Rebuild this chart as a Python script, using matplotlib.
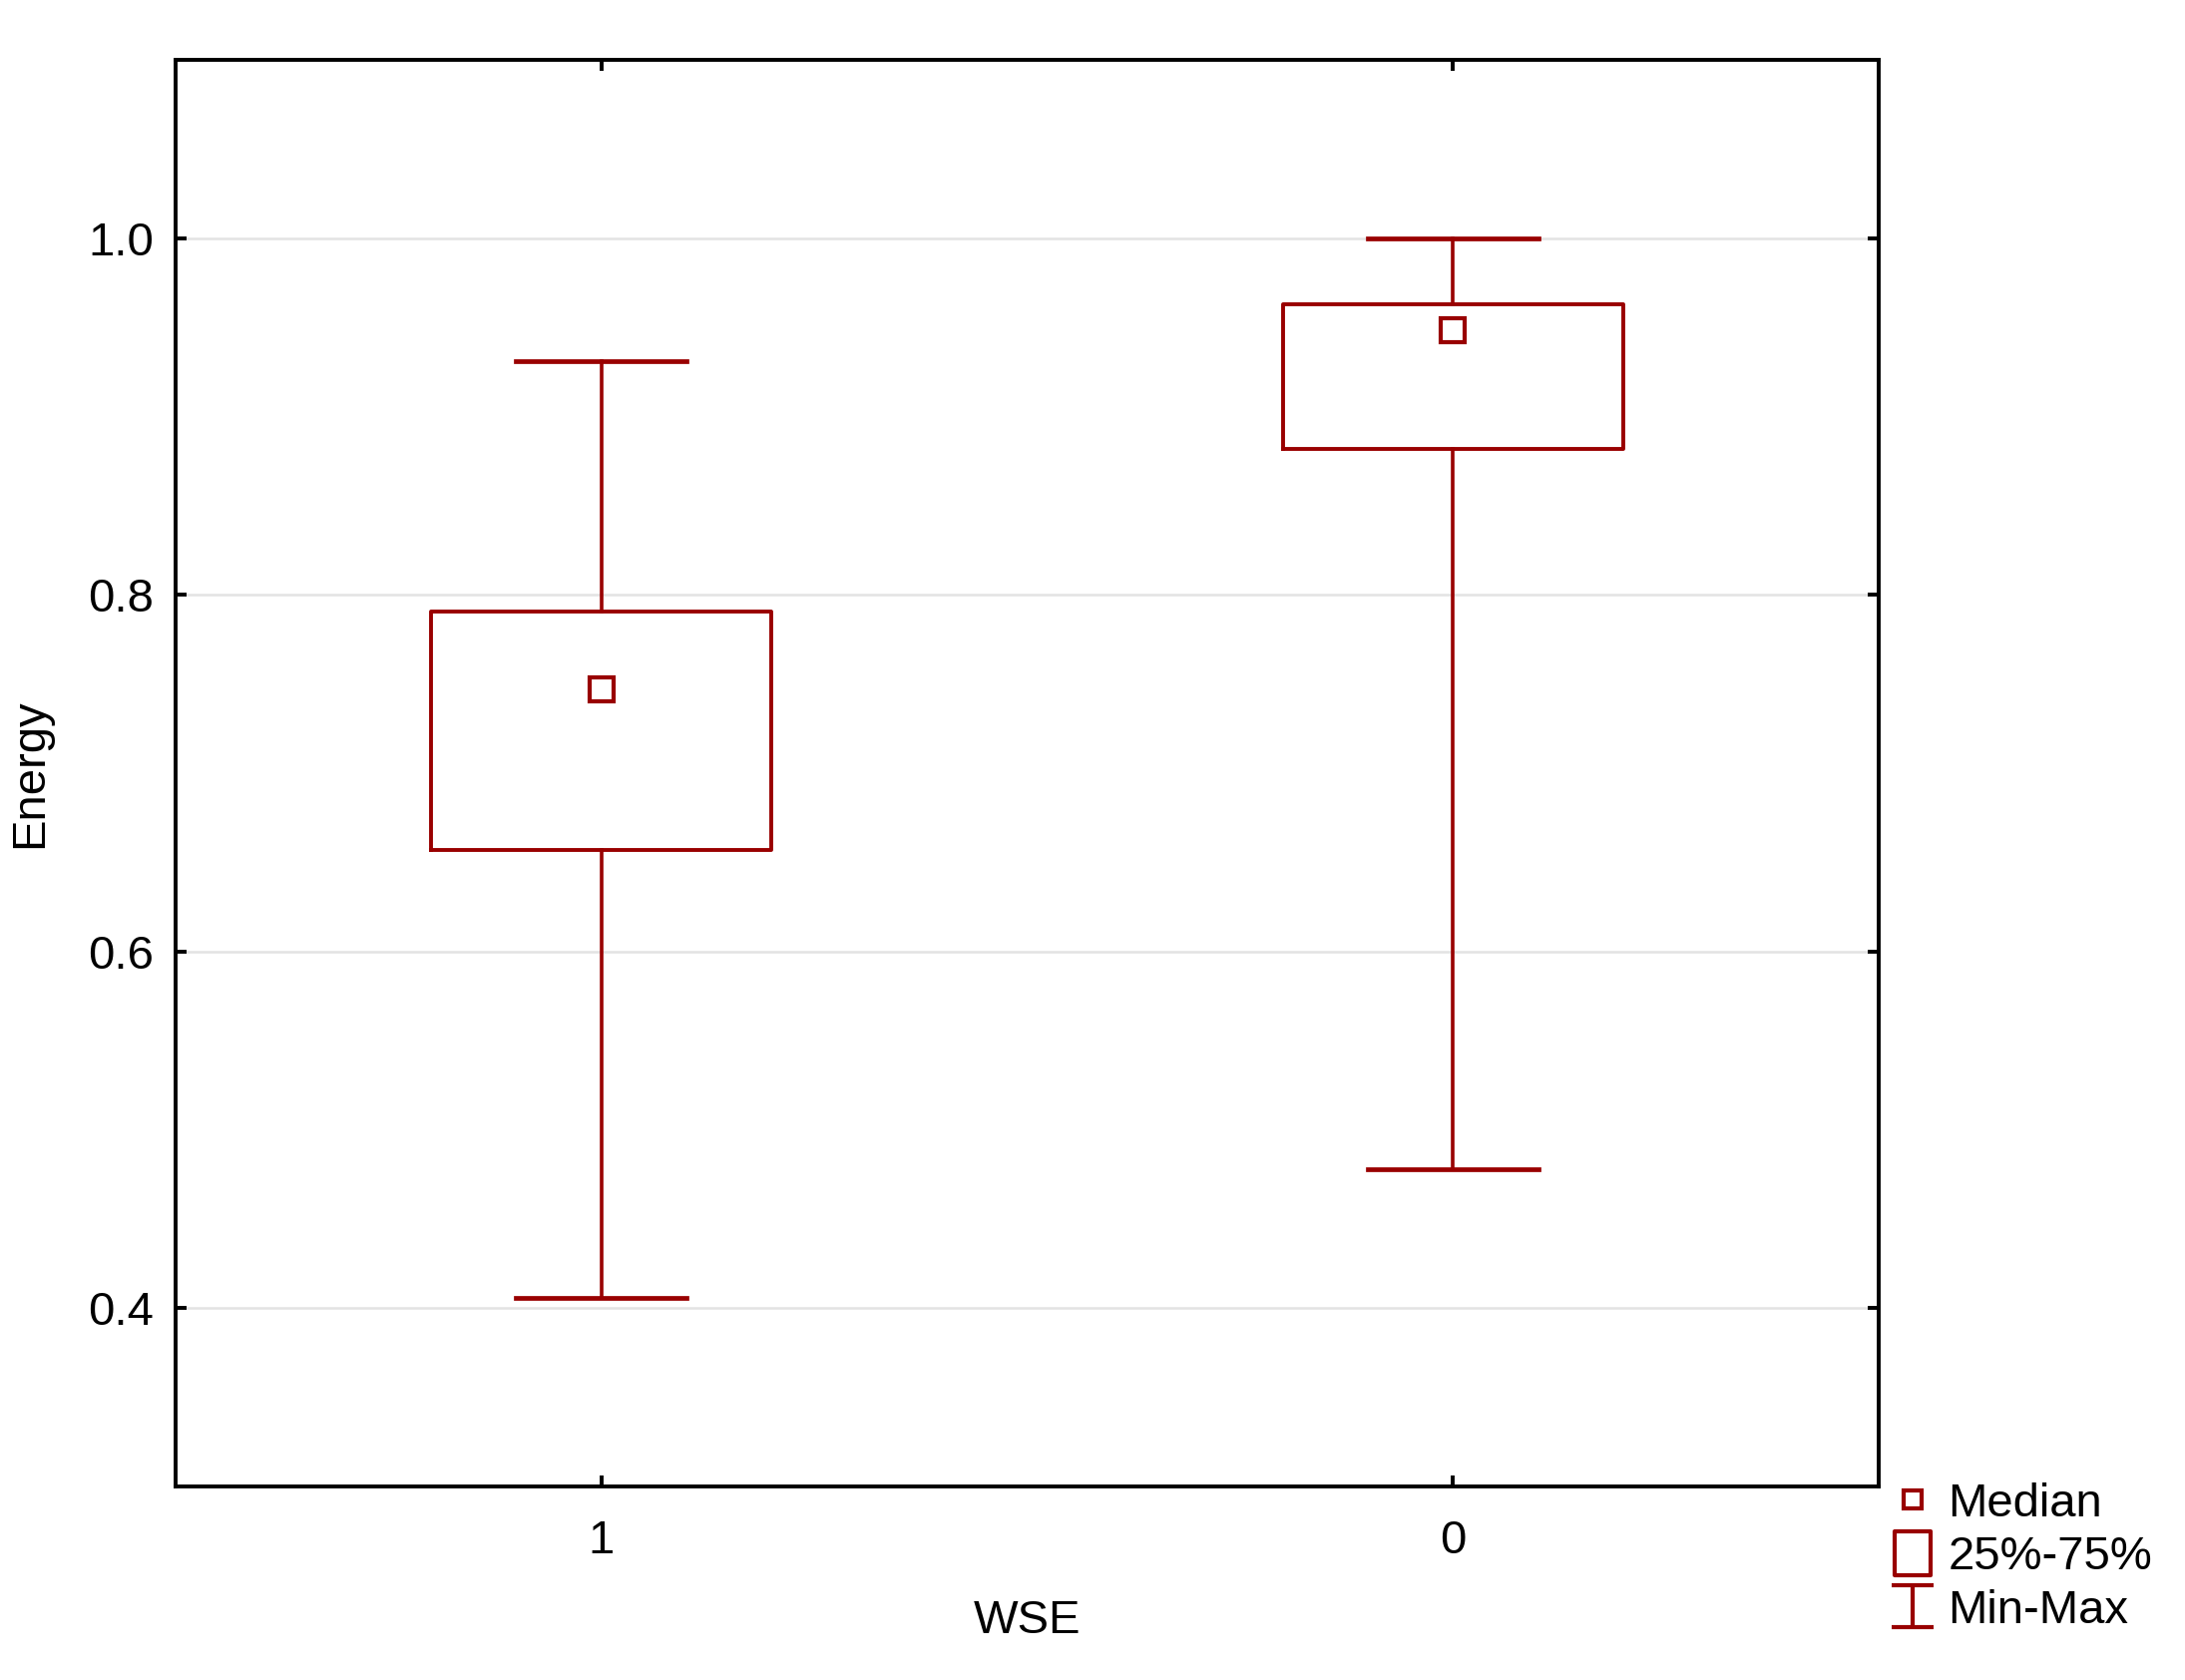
import matplotlib
matplotlib.use("Agg")
import matplotlib.pyplot as plt
from matplotlib.lines import Line2D
from matplotlib.path import Path

plt.rcParams['font.family'] = ['Liberation Sans', 'DejaVu Sans']

# data
groups = ['1', '0']
mins = [0.406, 0.478]
q1s = [0.657, 0.882]
medians = [0.747, 0.9485]
q3s = [0.7905, 0.963]
maxs = [0.931, 1.0]

RED = '#990000'
FS = 17

fig = plt.figure(figsize=(10.95, 8.42), dpi=200)
ax = fig.add_axes([0.0804, 0.1152, 0.8598 - 0.0804, 0.9644 - 0.1152])

stats = []
for i in range(len(groups)):
    stats.append(dict(label=groups[i], whislo=mins[i], q1=q1s[i], med=medians[i],
                      q3=q3s[i], whishi=maxs[i], fliers=[]))

pos = list(range(len(groups)))
ax.bxp(stats, positions=pos, widths=0.4, capwidths=0.2, showfliers=False,
       boxprops=dict(color=RED, linewidth=1.4),
       whiskerprops=dict(color=RED, linewidth=1.3),
       capprops=dict(color=RED, linewidth=1.7),
       medianprops=dict(linestyle='none'),
       zorder=3)
ax.plot(pos, medians, linestyle='none', marker='s', markersize=8.3,
        markerfacecolor='white', markeredgecolor=RED, markeredgewidth=1.5, zorder=4)

ax.set_xlim(-0.5, 1.5)
ax.set_ylim(0.3, 1.1)
ax.set_yticks([0.4, 0.6, 0.8, 1.0])
ax.set_yticklabels(['0.4', '0.6', '0.8', '1.0'])
ax.set_xticks(pos)
ax.set_xticklabels(groups)
ax.yaxis.grid(True, color='#e3e3e3', linewidth=0.9, zorder=0)
ax.set_axisbelow(True)

for s in ax.spines.values():
    s.set_linewidth(1.4)
ax.tick_params(direction='in', length=3.8, width=1.4, top=True, right=True,
               labelsize=FS)
ax.tick_params(axis='y', pad=8)
ax.tick_params(axis='x', pad=12)

ax.set_xlabel('WSE', fontsize=FS, labelpad=13)
ax.set_ylabel('Energy', fontsize=FS, labelpad=13)

# legend handles
box_path = Path([(-0.8, -1), (0.8, -1), (0.8, 1), (-0.8, 1), (-0.8, -1)],
                [Path.MOVETO, Path.LINETO, Path.LINETO, Path.LINETO, Path.CLOSEPOLY])
whisk_path = Path([(-1, 1), (1, 1), (0, 1), (0, -1), (-1, -1), (1, -1)],
                  [Path.MOVETO, Path.LINETO, Path.MOVETO, Path.LINETO, Path.MOVETO, Path.LINETO])
handles = [
    Line2D([], [], linestyle='none', marker='s', markersize=6.5, markerfacecolor='white',
           markeredgecolor=RED, markeredgewidth=1.5),
    Line2D([], [], linestyle='none', marker=box_path, markersize=16, markerfacecolor='white',
           markeredgecolor=RED, markeredgewidth=1.5),
    Line2D([], [], linestyle='none', marker=whisk_path, markersize=15, markerfacecolor='none',
           markeredgecolor=RED, markeredgewidth=1.5),
]
ax.legend(handles, ['Median', '25%-75%', 'Min-Max'], loc='upper left',
          bbox_to_anchor=(1.006, 0.003), frameon=False, fontsize=FS,
          handlelength=1.0, handletextpad=0.25, labelspacing=0.2,
          borderaxespad=0.0, borderpad=0.0)

fig.savefig('out.png', dpi=200)
